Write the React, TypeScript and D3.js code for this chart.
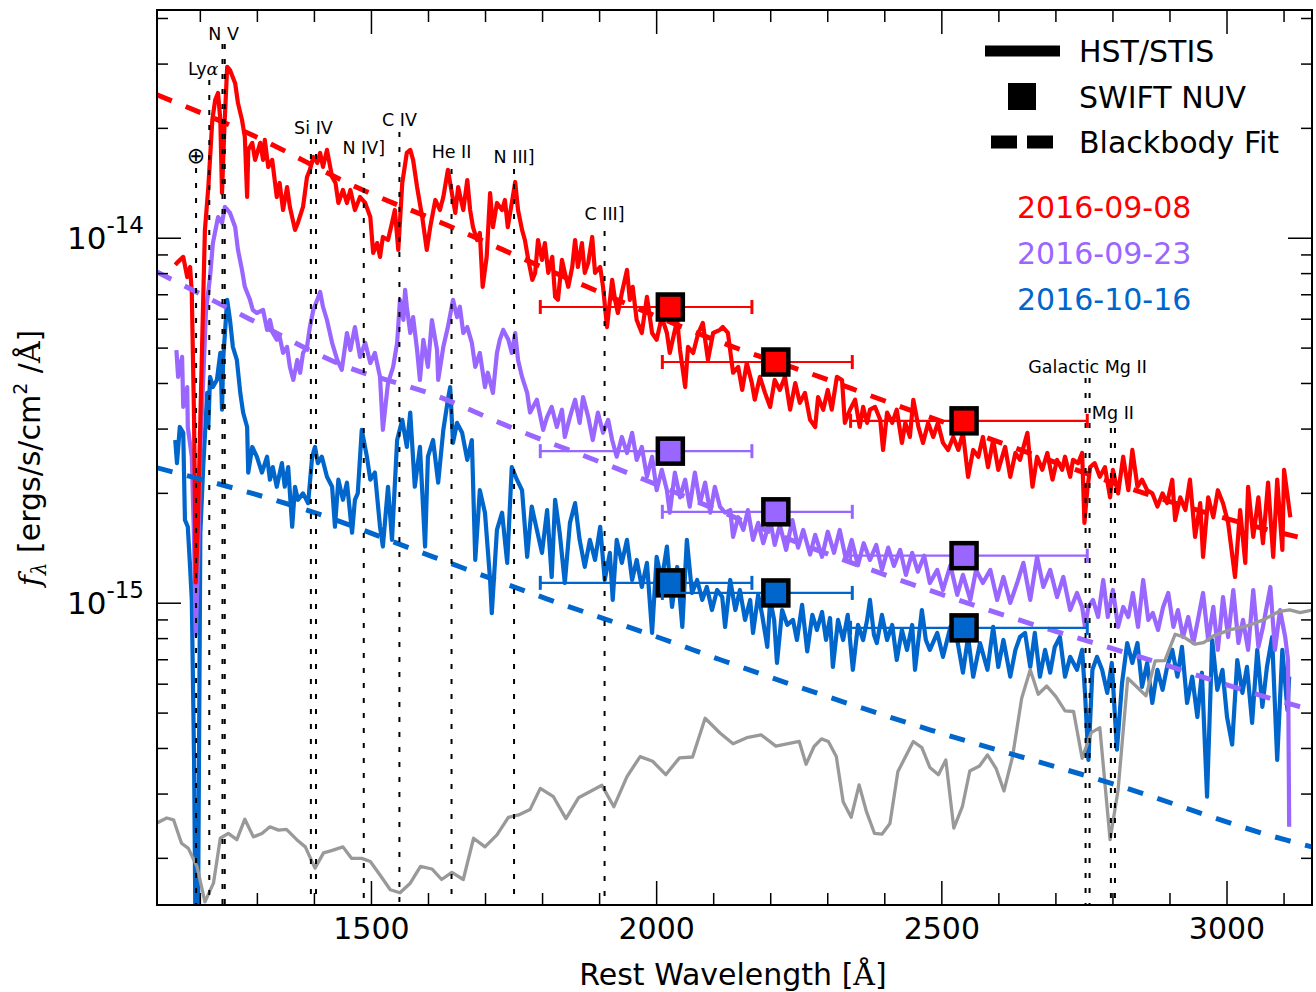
import React from 'react';
import * as d3 from 'd3';

// flux values are in units of 1e-15 ergs/s/cm^2/A, wavelengths in A
const FLUX_UNIT = 1e-15;

const dates = ['2016-09-08', '2016-09-23', '2016-10-16'];
const colors = ['#ff0000', '#9966ff', '#0066cc'];

const stisRed: [number, number][] = [
  [1156,8.45],[1159,8.56],[1170,8.89],[1177,7.83],[1182,8.34],[1185,7.08],[1189,3.18],[1192,1.14],[1196,1.69],[1200,3.18],[1205,6.78],[1208,10.54],[1214,13.81],[1221,21.1],[1226,23.9],[1231,25.0],[1235,21.1],[1238,13.3],[1242,19.8],[1247,29.5],[1252,28.9],[1261,26.6],[1266,23.45],[1273,21.1],[1278,18.94],[1282,12.97],[1284,17.46],[1291,18.25],[1296,16.39],[1305,18.25],[1310,16.39],[1313,18.6],[1319,15.68],[1326,16.39],[1334,12.97],[1339,14.17],[1345,11.95],[1352,13.81],[1357,12.18],[1366,10.54],[1371,11.01],[1380,12.18],[1387,14.72],[1392,15.39],[1398,16.7],[1405,16.08],[1410,17.13],[1415,15.68],[1422,17.46],[1431,14.72],[1437,14.17],[1442,12.49],[1450,13.56],[1457,12.49],[1463,13.56],[1471,11.95],[1480,12.97],[1489,12.49],[1498,11.43],[1503,9.12],[1510,9.7],[1515,8.89],[1520,10.08],[1529,9.89],[1536,11.01],[1541,11.95],[1547,9.29],[1554,14.17],[1562,17.13],[1568,17.46],[1573,16.39],[1580,13.81],[1589,11.43],[1597,9.29],[1603,10.73],[1612,12.73],[1620,11.95],[1626,12.97],[1634,15.39],[1641,13.3],[1647,11.73],[1652,13.81],[1661,11.95],[1668,14.44],[1673,11.95],[1678,10.73],[1685,9.89],[1690,10.34],[1695,7.36],[1702,8.89],[1708,13.3],[1713,10.73],[1720,12.49],[1729,11.95],[1734,12.73],[1739,10.73],[1746,12.49],[1752,14.26],[1757,11.95],[1764,10.54],[1769,9.89],[1775,8.72],[1782,7.69],[1787,8.04],[1792,9.89],[1799,8.72],[1804,9.7],[1810,8.04],[1817,8.89],[1822,6.91],[1827,6.78],[1834,8.72],[1839,8.04],[1845,7.36],[1852,8.34],[1857,9.89],[1862,8.34],[1869,9.7],[1874,8.04],[1880,8.56],[1887,10.08],[1892,8.04],[1901,8.34],[1906,7.36],[1913,5.71],[1922,7.69],[1927,6.78],[1932,6.24],[1939,7.08],[1948,8.19],[1953,6.78],[1958,7.36],[1965,5.97],[1974,5.5],[1983,6.91],[1992,5.5],[2000,5.27],[2009,6.08],[2018,5.5],[2023,4.85],[2036,5.97],[2041,4.94],[2050,3.91],[2055,5.04],[2064,4.85],[2073,5.5],[2081,5.86],[2090,4.64],[2099,5.5],[2111,5.61],[2116,5.71],[2125,5.5],[2134,4.28],[2143,4.44],[2150,3.84],[2158,4.55],[2167,4.01],[2172,3.61],[2181,4.17],[2190,3.77],[2199,3.45],[2207,4.09],[2216,3.84],[2225,4.17],[2234,3.39],[2243,4.01],[2251,3.54],[2260,3.77],[2269,3.18],[2278,3.04],[2283,3.67],[2292,3.39],[2300,3.84],[2307,3.39],[2316,4.17],[2325,4.09],[2330,3.12],[2339,3.39],[2348,3.61],[2356,3.04],[2362,3.45],[2369,3.12],[2374,3.39],[2383,3.45],[2392,3.18],[2397,2.63],[2404,3.33],[2413,3.12],[2421,3.39],[2430,2.75],[2436,3.12],[2444,2.855],[2450,3.61],[2459,3.04],[2467,2.75],[2476,3.12],[2485,2.855],[2493,3.12],[2502,2.75],[2511,2.63],[2520,2.855],[2529,2.63],[2537,2.93],[2546,2.22],[2555,2.63],[2564,2.52],[2572,2.855],[2581,2.36],[2590,2.8],[2599,2.32],[2611,2.68],[2620,2.22],[2629,2.58],[2637,2.47],[2650,2.93],[2659,2.085],[2667,2.52],[2676,2.32],[2685,2.58],[2694,2.18],[2702,2.47],[2711,2.32],[2716,2.52],[2725,2.22],[2730,2.47],[2739,2.42],[2746,2.58],[2750,1.66],[2755,2.04],[2760,2.36],[2768,2.42],[2777,2.22],[2786,2.36],[2795,1.95],[2800,2.32],[2809,2.0],[2818,2.52],[2827,2.04],[2834,2.63],[2843,2.085],[2851,2.18],[2860,2.04],[2869,2.0],[2878,1.84],[2887,2.0],[2895,1.88],[2904,2.18],[2909,1.69],[2918,1.95],[2927,1.8],[2935,2.18],[2944,1.52],[2953,1.88],[2958,1.34],[2967,1.95],[2976,1.72],[2984,2.04],[2993,1.88],[3002,1.66],[3014,1.18],[3023,1.8],[3032,1.29],[3037,2.085],[3046,1.52],[3055,1.95],[3063,1.46],[3072,2.14],[3081,1.34],[3088,2.18],[3097,1.4],[3100,2.32],[3107,1.92],[3111,1.72],
];

const stisPurple: [number, number][] = [
  [1158,4.94],[1161,4.17],[1168,4.73],[1170,3.45],[1177,3.91],[1178,3.04],[1185,2.52],[1189,1.49],[1192,0.819],[1196,1.31],[1200,2.63],[1205,4.09],[1210,6.36],[1217,7.83],[1222,9.7],[1231,11.43],[1238,11.01],[1243,12.18],[1252,11.73],[1261,10.73],[1266,9.29],[1273,8.19],[1278,7.36],[1287,6.78],[1292,6.36],[1299,6.24],[1310,6.36],[1317,5.61],[1322,5.97],[1327,5.5],[1334,5.27],[1339,5.37],[1345,4.85],[1352,5.04],[1357,4.44],[1363,4.09],[1370,4.64],[1375,4.28],[1380,4.85],[1387,5.04],[1392,5.71],[1398,6.36],[1405,6.78],[1410,7.13],[1415,6.49],[1422,5.97],[1431,5.17],[1440,4.64],[1448,4.36],[1457,5.5],[1463,4.94],[1471,5.71],[1480,4.73],[1489,5.17],[1498,4.55],[1506,4.85],[1515,4.17],[1520,2.985],[1529,4.01],[1538,4.44],[1545,5.17],[1550,6.78],[1556,5.97],[1559,7.22],[1562,6.49],[1568,5.5],[1573,6.08],[1580,4.94],[1585,4.09],[1591,5.27],[1599,4.44],[1606,5.97],[1615,4.94],[1617,4.09],[1626,5.04],[1634,5.71],[1643,6.78],[1650,6.08],[1655,6.49],[1661,5.5],[1668,5.71],[1676,5.17],[1682,4.44],[1690,4.85],[1699,3.91],[1704,4.28],[1713,3.77],[1720,4.85],[1725,5.27],[1731,5.61],[1740,5.27],[1746,4.85],[1752,5.5],[1757,4.64],[1764,4.17],[1773,3.77],[1778,3.33],[1790,3.61],[1801,2.985],[1808,3.24],[1816,3.45],[1825,3.04],[1834,3.39],[1839,2.855],[1848,3.24],[1857,3.61],[1865,3.12],[1871,3.67],[1880,3.24],[1888,2.8],[1897,3.33],[1906,2.93],[1915,3.18],[1922,2.8],[1930,2.52],[1939,2.855],[1948,2.58],[1957,2.93],[1965,2.47],[1974,2.68],[1983,2.22],[1992,2.52],[2000,2.04],[2009,2.32],[2018,2.04],[2023,1.77],[2032,2.28],[2041,1.95],[2050,2.18],[2058,1.84],[2067,2.28],[2076,1.88],[2085,2.14],[2094,1.77],[2102,2.085],[2111,1.84],[2120,1.77],[2129,1.8],[2134,1.52],[2143,1.72],[2152,1.588],[2160,1.8],[2169,1.491],[2178,1.66],[2187,1.46],[2199,1.69],[2207,1.444],[2216,1.637],[2227,1.4],[2238,1.69],[2248,1.42],[2257,1.588],[2269,1.36],[2278,1.54],[2290,1.34],[2300,1.57],[2311,1.374],[2321,1.588],[2332,1.314],[2342,1.491],[2353,1.27],[2363,1.46],[2374,1.314],[2385,1.444],[2395,1.234],[2406,1.42],[2416,1.265],[2427,1.4],[2437,1.196],[2448,1.374],[2458,1.22],[2469,1.35],[2479,1.136],[2492,1.234],[2502,1.087],[2515,1.27],[2527,1.054],[2537,1.196],[2550,1.021],[2560,1.234],[2572,1.136],[2585,1.234],[2597,1.021],[2608,1.18],[2620,1.002],[2632,1.136],[2643,1.29],[2655,1.021],[2667,1.34],[2678,1.108],[2690,1.234],[2702,1.04],[2713,1.18],[2725,0.958],[2737,1.067],[2746,0.977],[2751,0.861],[2757,0.977],[2765,1.021],[2774,0.917],[2783,1.158],[2791,0.917],[2800,1.087],[2809,0.861],[2818,0.977],[2827,0.917],[2835,1.067],[2844,0.861],[2853,1.158],[2862,0.9],[2870,0.94],[2879,0.845],[2888,0.977],[2897,1.067],[2906,0.861],[2914,0.958],[2923,0.808],[2932,0.917],[2941,0.778],[2949,0.9],[2958,1.067],[2967,0.793],[2976,0.977],[2984,0.745],[2993,1.04],[3002,0.808],[3011,1.087],[3020,0.778],[3028,0.9],[3037,0.745],[3046,1.087],[3055,0.759],[3063,0.861],[3076,1.108],[3084,0.745],[3093,0.958],[3102,0.808],[3107,0.699],[3109,0.244],
];

const stisBlue: [number, number][] = [
  [1156,2.8],[1159,2.42],[1164,3.04],[1170,2.93],[1173,1.69],[1178,1.62],[1182,1.257],[1185,1.021],[1189,0.372],[1192,0.1],[1196,0.14],[1200,1.56],[1205,2.36],[1212,3.77],[1214,3.04],[1217,4.17],[1222,3.91],[1229,4.09],[1235,4.85],[1238,3.39],[1240,4.64],[1247,6.78],[1252,5.97],[1257,5.04],[1264,4.64],[1270,3.77],[1275,3.33],[1282,3.04],[1284,2.28],[1291,2.68],[1299,2.52],[1308,2.28],[1317,2.52],[1322,2.18],[1327,2.36],[1334,2.085],[1343,2.42],[1348,2.085],[1354,2.36],[1361,1.62],[1366,2.085],[1371,1.92],[1380,2.0],[1389,1.88],[1396,2.52],[1401,2.68],[1406,2.42],[1413,2.52],[1422,2.22],[1431,2.085],[1436,1.62],[1442,2.18],[1450,1.92],[1457,2.14],[1466,1.56],[1471,1.92],[1476,2.0],[1483,2.985],[1492,2.52],[1498,2.18],[1506,2.28],[1515,1.62],[1520,1.43],[1529,2.085],[1536,1.491],[1545,2.8],[1554,3.18],[1562,2.68],[1568,3.33],[1576,2.085],[1585,2.68],[1594,1.43],[1599,2.52],[1608,2.8],[1617,2.14],[1626,2.985],[1634,3.61],[1638,3.91],[1643,2.75],[1650,3.12],[1659,2.93],[1668,2.47],[1676,2.8],[1682,1.314],[1690,2.04],[1699,1.77],[1708,1.158],[1711,0.94],[1720,1.588],[1729,1.77],[1738,1.29],[1746,2.36],[1755,2.18],[1764,2.04],[1773,1.34],[1781,1.84],[1790,1.588],[1799,1.374],[1808,1.8],[1816,1.18],[1822,1.92],[1830,1.56],[1839,1.136],[1848,1.66],[1857,1.88],[1865,1.491],[1874,1.257],[1883,1.491],[1892,1.314],[1901,1.62],[1909,1.158],[1918,1.374],[1923,1.021],[1930,1.491],[1939,1.29],[1948,1.491],[1957,1.158],[1965,1.314],[1974,1.108],[1983,1.29],[1992,0.829],[2000,1.34],[2009,1.158],[2018,1.43],[2027,0.977],[2036,1.257],[2045,0.861],[2053,1.491],[2062,1.067],[2071,1.158],[2080,1.021],[2088,1.108],[2097,0.958],[2106,1.087],[2115,1.04],[2120,0.861],[2129,1.158],[2138,0.958],[2146,1.087],[2155,0.9],[2164,1.021],[2169,0.829],[2178,1.054],[2185,0.928],[2194,0.759],[2199,1.021],[2206,0.9],[2211,0.686],[2220,0.958],[2229,0.872],[2239,0.9],[2246,0.793],[2255,0.99],[2264,0.738],[2273,0.929],[2281,0.845],[2290,0.946],[2297,0.793],[2304,0.911],[2309,0.669],[2318,0.9],[2327,0.793],[2335,0.929],[2344,0.657],[2353,0.872],[2362,0.793],[2369,0.9],[2374,1.021],[2381,0.819],[2386,0.778],[2395,0.929],[2404,0.793],[2413,0.872],[2421,0.699],[2430,0.845],[2439,0.745],[2448,0.872],[2453,0.657],[2460,0.819],[2465,0.958],[2472,0.793],[2479,0.745],[2492,0.829],[2502,0.713],[2515,0.861],[2527,0.793],[2537,0.645],[2546,0.808],[2555,0.629],[2567,0.778],[2580,0.657],[2590,0.861],[2599,0.669],[2608,0.793],[2620,0.629],[2629,0.745],[2637,0.808],[2646,0.829],[2655,0.669],[2663,0.829],[2672,0.629],[2681,0.745],[2690,0.645],[2698,0.759],[2707,0.808],[2716,0.629],[2725,0.713],[2737,0.657],[2746,0.745],[2751,0.568],[2757,0.372],[2764,0.657],[2772,0.713],[2781,0.657],[2790,0.568],[2798,0.686],[2807,0.397],[2816,0.605],[2825,0.778],[2834,0.686],[2843,0.778],[2851,0.59],[2860,0.686],[2869,0.533],[2878,0.657],[2887,0.579],[2895,0.669],[2904,0.745],[2913,0.629],[2921,0.759],[2930,0.533],[2939,0.629],[2948,0.488],[2956,0.645],[2965,0.295],[2974,0.793],[2983,0.579],[2992,0.657],[3000,0.488],[3009,0.41],[3018,0.699],[3027,0.568],[3035,0.669],[3044,0.47],[3053,0.745],[3062,0.52],[3070,0.669],[3079,0.808],[3088,0.372],[3097,0.745],[3106,0.51],[3109,0.629],
];

const hostGray: [number, number][] = [
  [1124,0.25],[1141,0.258],[1153,0.255],[1167,0.22],[1179,0.213],[1194,0.19],[1208,0.152],[1223,0.171],[1235,0.227],[1249,0.234],[1264,0.225],[1278,0.256],[1293,0.229],[1308,0.234],[1322,0.244],[1337,0.239],[1351,0.24],[1369,0.225],[1384,0.215],[1401,0.188],[1416,0.207],[1430,0.21],[1450,0.215],[1465,0.2],[1483,0.2],[1498,0.196],[1515,0.18],[1533,0.164],[1550,0.161],[1568,0.171],[1586,0.19],[1606,0.187],[1623,0.175],[1641,0.183],[1661,0.175],[1679,0.227],[1699,0.215],[1720,0.232],[1740,0.259],[1758,0.263],[1778,0.272],[1796,0.311],[1819,0.295],[1841,0.257],[1863,0.293],[1904,0.317],[1925,0.277],[1948,0.335],[1971,0.38],[1993,0.369],[2016,0.339],[2040,0.377],[2063,0.379],[2085,0.484],[2111,0.441],[2134,0.412],[2158,0.428],[2183,0.436],[2209,0.406],[2250,0.418],[2262,0.362],[2276,0.405],[2289,0.425],[2301,0.418],[2315,0.38],[2327,0.286],[2341,0.259],[2355,0.318],[2368,0.268],[2382,0.234],[2395,0.233],[2409,0.249],[2423,0.346],[2450,0.418],[2465,0.402],[2479,0.355],[2494,0.339],[2507,0.372],[2521,0.242],[2536,0.277],[2549,0.347],[2566,0.358],[2580,0.384],[2595,0.353],[2609,0.306],[2624,0.38],[2640,0.549],[2655,0.657],[2669,0.563],[2684,0.593],[2700,0.555],[2716,0.507],[2731,0.505],[2746,0.376],[2762,0.442],[2777,0.456],[2795,0.225],[2809,0.308],[2826,0.623],[2858,0.558],[2874,0.695],[2891,0.696],[2909,0.822],[2923,0.81],[2944,0.772],[2959,0.78],[2976,0.814],[3005,0.845],[3035,0.867],[3064,0.9],[3090,0.948],[3110,0.959],[3128,0.942],[3151,0.959],
];

// blackbody fits
const bbRed: [number, number][] = [[1124,24.7],[1287,19.3],[1485,13.55],[1632,10.87],[1731,9.29],[1878,7.36],[2134,5.04],[2286,4.17],[2386,3.65],[2492,3.18],[3124,1.52],[3149,1.49]];
const bbPurple: [number, number][] = [[1124,8.08],[1287,6.0],[1440,4.55],[1620,3.67],[1734,3.08],[1936,2.32],[2250,1.46],[2602,0.935],[2853,0.708],[3123,0.523],[3149,0.51]];
const bbBlue: [number, number][] = [[1124,2.35],[1396,1.78],[1608,1.34],[1806,1.03],[2011,0.798],[2113,0.699],[2479,0.45],[2800,0.32],[3103,0.2246],[3149,0.215]];

// SWIFT UVOT photometry
const swiftWave = [2024, 2209, 2539];
const swiftLo = [1796, 2010, 2340];
const swiftHi = [2167, 2343, 2755];
const swiftRed = [6.48, 4.58, 3.16];
const swiftPurple = [2.61, 1.78, 1.35];
const swiftBlue = [1.137, 1.067, 0.856];

// line identifications
const lineNames = ['\u2295', 'Ly\u03b1', 'N V', 'Si IV', 'N IV]', 'C IV', 'He II', 'N III]', 'C III]', 'Galactic Mg II', 'Mg II'];
const lineWaves = [[1192.5], [1215.67], [1238.8, 1242.8], [1393.8, 1402.8], [1486.5], [1549], [1640.4], [1750], [1908.7], [2752, 2759], [2796.4, 2803.5]];
const labelBase = [163, 75, 40, 134, 154, 126, 158, 163, 220, 373, 419];
const lineTop = [168, 80, 44, 139, 158, 132, 169, 169, 231, 378, 428];

const W = 1316, H = 992;
const L = 157, R = 1312, T = 10, B = 905;
const FONT = 'DejaVu Sans, sans-serif';

export default function App() {
  const x = d3.scaleLinear().domain([1124, 3149]).range([L, R]);
  const y = d3.scaleLog().domain([1.49e-16, 4.22e-14]).range([B, T]);
  const fy = (v: number) => y(v * FLUX_UNIT);

  const line = d3.line<[number, number]>().x(d => x(d[0])).y(d => fy(d[1]));
  const smooth = d3.line<[number, number]>().x(d => x(d[0])).y(d => fy(d[1])).curve(d3.curveMonotoneX);

  const xMajor = x.ticks(4);
  const xMinor = x.ticks(20).filter(t => !xMajor.includes(t));
  const yAll = y.ticks(10);
  const isMajorY = (t: number) => Math.abs(Math.log10(t) - Math.round(Math.log10(t))) < 1e-6;

  const spectra = [stisBlue, stisPurple, stisRed];
  const specColors = [colors[2], colors[1], colors[0]];
  const fits = [bbRed, bbPurple, bbBlue];
  const swift = [swiftRed, swiftPurple, swiftBlue];

  return (
    <svg width={W} height={H} style={{ position: 'absolute', left: 0, top: 0, background: '#fff' }} fontFamily={FONT}>
      <defs>
        <clipPath id="plot"><rect x={L} y={T} width={R - L} height={B - T} /></clipPath>
      </defs>
      <rect x={0} y={0} width={W} height={H} fill="#fff" />

      <g clipPath="url(#plot)">
        {spectra.map((s, i) => (
          <path key={'s' + i} d={line(s) || ''} fill="none" stroke={specColors[i]} strokeWidth={4.2} strokeLinejoin="round" />
        ))}
        <path d={line(hostGray) || ''} fill="none" stroke="#999999" strokeWidth={3.3} strokeLinejoin="round" />
        {fits.map((f, i) => (
          <path key={'f' + i} d={smooth(f) || ''} fill="none" stroke={colors[i]} strokeWidth={5} strokeDasharray="16 15" />
        ))}
      </g>

      {/* line identifications */}
      {lineWaves.map((ws, i) => (
        <g key={'l' + i}>
          {ws.map((w, j) => (
            <line key={j} x1={x(w)} x2={x(w)} y1={lineTop[i]} y2={B} stroke="#000" strokeWidth={2} strokeDasharray="5 10" />
          ))}
          <text x={d3.mean(ws.map(w => x(w)))! + (i === 1 ? -6 : 0)} y={labelBase[i]} textAnchor="middle" fontSize={i === 0 ? 22 : 17.5}>
            {i === 1 ? (<>Ly<tspan fontFamily="DejaVu Serif" fontStyle="italic">{'\u03b1'}</tspan></>) : lineNames[i]}
          </text>
        </g>
      ))}

      {/* SWIFT points with wavelength error bars */}
      {swift.map((vals, i) => (
        <g key={'w' + i}>
          {vals.map((v, j) => (
            <g key={j}>
              <line x1={x(swiftLo[j])} x2={x(swiftHi[j])} y1={fy(v)} y2={fy(v)} stroke={colors[i]} strokeWidth={2.2} />
              <line x1={x(swiftLo[j])} x2={x(swiftLo[j])} y1={fy(v) - 7} y2={fy(v) + 7} stroke={colors[i]} strokeWidth={3} />
              <line x1={x(swiftHi[j])} x2={x(swiftHi[j])} y1={fy(v) - 7} y2={fy(v) + 7} stroke={colors[i]} strokeWidth={3} />
              <rect x={x(swiftWave[j]) - 12.5} y={fy(v) - 12.5} width={25} height={25} fill={colors[i]} stroke="#000" strokeWidth={4.5} />
            </g>
          ))}
        </g>
      ))}

      {/* frame and ticks */}
      <rect x={L} y={T} width={R - L} height={B - T} fill="none" stroke="#000" strokeWidth={2} />
      {xMajor.map(t => (
        <g key={'xm' + t}>
          <line x1={x(t)} x2={x(t)} y1={B} y2={B - 24} stroke="#000" strokeWidth={1.5} />
          <line x1={x(t)} x2={x(t)} y1={T} y2={T + 24} stroke="#000" strokeWidth={1.5} />
          <text x={x(t)} y={939} textAnchor="middle" fontSize={30}>{t}</text>
        </g>
      ))}
      {xMinor.map(t => (
        <g key={'xn' + t}>
          <line x1={x(t)} x2={x(t)} y1={B} y2={B - 12} stroke="#000" strokeWidth={1.5} />
          <line x1={x(t)} x2={x(t)} y1={T} y2={T + 12} stroke="#000" strokeWidth={1.5} />
        </g>
      ))}
      {yAll.map(t => {
        const len = isMajorY(t) ? 24 : 11;
        return (
          <g key={'y' + t}>
            <line x1={L} x2={L + len} y1={y(t)} y2={y(t)} stroke="#000" strokeWidth={1.5} />
            <line x1={R} x2={R - len} y1={y(t)} y2={y(t)} stroke="#000" strokeWidth={1.5} />
            {isMajorY(t) && (
              <text x={144} y={y(t) + 11} textAnchor="end" fontSize={31}>
                10<tspan fontSize={23} dy={-16}>{String(Math.round(Math.log10(t)))}</tspan>
              </text>
            )}
          </g>
        );
      })}

      {/* axis labels */}
      <text x={733} y={985} textAnchor="middle" fontSize={30}>
        Rest Wavelength [<tspan fontFamily="DejaVu Serif">{'\u00c5'}</tspan>]
      </text>
      <text transform="translate(40,458) rotate(-90)" textAnchor="middle" fontSize={30}>
        <tspan fontFamily="DejaVu Serif" fontStyle="italic">f</tspan>
        <tspan fontFamily="DejaVu Serif" fontStyle="italic" fontSize={20} dy={6}>{'\u03bb'}</tspan>
        <tspan dy={-6}> [ergs/s/cm</tspan>
        <tspan fontSize={19} dy={-13}>2</tspan>
        <tspan dy={13}> /</tspan>
        <tspan fontFamily="DejaVu Serif">{'\u00c5'}</tspan>
        <tspan>]</tspan>
      </text>

      {/* legend */}
      <line x1={985} x2={1060} y1={51} y2={51} stroke="#000" strokeWidth={11} />
      <rect x={1008} y={83} width={28} height={27} fill="#000" />
      <line x1={991} x2={1054} y1={142} y2={142} stroke="#000" strokeWidth={13} strokeDasharray="26 10" />
      <text x={1079} y={62} fontSize={30}>HST/STIS</text>
      <text x={1079} y={108} fontSize={30}>SWIFT NUV</text>
      <text x={1079} y={153} fontSize={30}>Blackbody Fit</text>
      {dates.map((d, i) => (
        <text key={d} x={1017} y={218 + i * 46} fontSize={30} fill={colors[i]}>{d}</text>
      ))}
    </svg>
  );
}
